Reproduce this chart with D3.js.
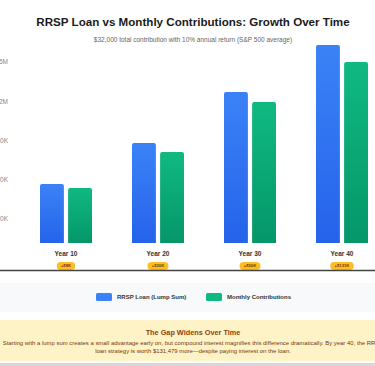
<!DOCTYPE html>
<html>
<head>
<meta charset="utf-8">
<script src="https://cdn.jsdelivr.net/npm/d3@7"></script>
<style>
  html, body { margin: 0; padding: 0; background: #ffffff; overflow: hidden; }
  svg { display: block; font-family: "Liberation Sans", Arial, Helvetica, sans-serif; }
</style>
</head>
<body>
<svg id="chart" width="375" height="366"></svg>
<script>
// ---- data ----
const categories = ["Year 10", "Year 20", "Year 30", "Year 40"];
const seriesNames = ["RRSP Loan (Lump Sum)", "Monthly Contributions"];
const rrspLoan = [450000, 763000, 1153000, 1511000];
const monthly = [420000, 695000, 1076000, 1382000];
const gapBadges = ["+$8K", "+$20K", "+$50K", "+$131K"];
const yTicks = [300000, 600000, 900000, 1200000, 1500000];
const yTickLabels = ["$300K", "$600K", "$900K", "$1.2M", "$1.5M"];
const titleText = "RRSP Loan vs Monthly Contributions: Growth Over Time";
const subtitleText = "$32,000 total contribution with 10% annual return (S&P 500 average)";
const noteTitle = "The Gap Widens Over Time";
const noteLines = [
  "Starting with a lump sum creates a small advantage early on, but compound interest magnifies this difference dramatically. By year 40, the RRSP",
  "loan strategy is worth $131,479 more\u2014despite paying interest on the loan."
];

const svg = d3.select("#chart");
const W = 375;
const CX = 193;

// gradients
const defs = svg.append("defs");
const gBlue = defs.append("linearGradient").attr("id", "gBlue").attr("x1", 0).attr("y1", 0).attr("x2", 0).attr("y2", 1);
gBlue.append("stop").attr("offset", "0%").attr("stop-color", "#3b82f6");
gBlue.append("stop").attr("offset", "100%").attr("stop-color", "#2563eb");
const gGreen = defs.append("linearGradient").attr("id", "gGreen").attr("x1", 0).attr("y1", 0).attr("x2", 0).attr("y2", 1);
gGreen.append("stop").attr("offset", "0%").attr("stop-color", "#10b981");
gGreen.append("stop").attr("offset", "100%").attr("stop-color", "#059669");
const fills = ["url(#gBlue)", "url(#gGreen)"];
const legendFills = ["#3b82f6", "#10b981"];

// title
svg.append("text").attr("x", CX).attr("y", 26).attr("text-anchor", "middle")
  .attr("font-size", 11.6).attr("font-weight", "bold").attr("fill", "#1a1a1a").text(titleText);
svg.append("text").attr("x", CX).attr("y", 41.5).attr("text-anchor", "middle")
  .attr("font-size", 6.5).attr("fill", "#666").text(subtitleText);

// scales
const x0 = d3.scaleBand().domain(categories).range([20, 388]).paddingInner(0).paddingOuter(0);
const x1 = d3.scaleBand().domain(seriesNames).range([20, 72]).paddingInner(0.15).paddingOuter(0);
const y = d3.scaleLinear().domain([0, 1500000]).range([243, 46.5]);

// y-axis labels (offset column, clipped at left edge)
const axisOffset = 15.5;
svg.append("g").selectAll("text").data(yTicks).join("text")
  .attr("x", 8).attr("y", d => y(d) + axisOffset).attr("dy", "0.35em")
  .attr("text-anchor", "end").attr("font-size", 6.5).attr("fill", "#888")
  .text((d, i) => yTickLabels[i]);

// bars
const groups = svg.append("g").selectAll("g").data(categories).join("g")
  .attr("transform", d => `translate(${x0(d)},0)`);

function topRounded(xp, yp, w, h, r) {
  r = Math.min(r, h / 2, w / 2);
  return `M${xp},${yp + h}V${yp + r}Q${xp},${yp} ${xp + r},${yp}H${xp + w - r}Q${xp + w},${yp} ${xp + w},${yp + r}V${yp + h}Z`;
}

groups.each(function (cat, i) {
  const g = d3.select(this);
  const vals = [rrspLoan[i], monthly[i]];
  g.selectAll("path").data(vals).join("path")
    .attr("d", (v, j) => topRounded(x1(seriesNames[j]), y(v), x1.bandwidth(), y(0) - y(v), 2))
    .attr("fill", (v, j) => fills[j]);
  g.append("text").attr("x", 46).attr("y", 256).attr("text-anchor", "middle")
    .attr("font-size", 6.5).attr("font-weight", "bold").attr("fill", "#333").text(cat);
  const bw = gapBadges[i].length * 2.6 + 8;
  g.append("rect").attr("x", 46 - bw / 2).attr("y", 262).attr("width", bw).attr("height", 8)
    .attr("rx", 4).attr("fill", "#fbbf24");
  g.append("text").attr("x", 46).attr("y", 266).attr("dy", "0.35em").attr("text-anchor", "middle")
    .attr("font-size", 4.2).attr("font-weight", "bold").attr("fill", "#78350f").text(gapBadges[i]);
});

// baseline separator
svg.append("line").attr("x1", 0).attr("x2", W).attr("y1", 270.5).attr("y2", 270.5)
  .attr("stroke", "#444").attr("stroke-width", 1.5);

// legend panel
svg.append("rect").attr("x", 0).attr("y", 283).attr("width", W).attr("height", 29).attr("fill", "#f8f9fb");
const legendX = [96, 206];
const legend = svg.append("g").selectAll("g").data(seriesNames).join("g")
  .attr("transform", (d, i) => `translate(${legendX[i]},293)`);
legend.append("rect").attr("width", 16).attr("height", 8).attr("rx", 1.5).attr("fill", (d, i) => legendFills[i]);
legend.append("text").attr("x", 21).attr("y", 4).attr("dy", "0.35em").attr("font-size", 6)
  .attr("font-weight", "bold").attr("fill", "#333").text(d => d);

// note panel
svg.append("rect").attr("x", 0).attr("y", 320).attr("width", W).attr("height", 41).attr("fill", "#fef3c7");
svg.append("text").attr("x", CX).attr("y", 334.5).attr("text-anchor", "middle")
  .attr("font-size", 7.3).attr("font-weight", "bold").attr("fill", "#92400e").text(noteTitle);
svg.append("g").selectAll("text").data(noteLines).join("text")
  .attr("x", CX).attr("y", (d, i) => 344.5 + i * 8).attr("text-anchor", "middle")
  .attr("font-size", 5.95).attr("fill", "#78350f").text(d => d);

// bottom edge
svg.append("rect").attr("x", 0).attr("y", 363).attr("width", W).attr("height", 3).attr("fill", "#d8d8d8");
</script>
</body>
</html>
